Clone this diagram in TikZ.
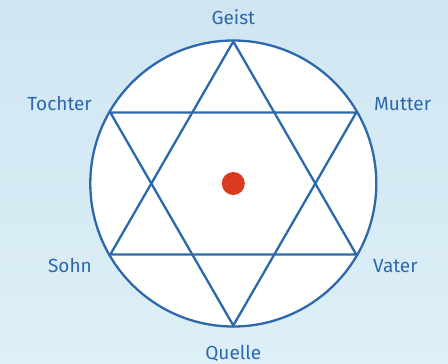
\documentclass[tikz,border=0pt]{standalone}
\usepackage{fontspec}
\setmainfont{Fira Sans}
\usetikzlibrary{calc}
\definecolor{starblue}{HTML}{2D68AD}
\definecolor{dotred}{HTML}{DC3A20}
\definecolor{bgtop}{HTML}{CFE6F2}
\definecolor{bgbot}{HTML}{DDEFF7}
\tikzset{
  lbl/.style={text=starblue, font=\fontsize{19}{22}\selectfont, inner sep=0pt},
  starline/.style={draw=starblue, line width=2.3pt, line join=miter},
}
\begin{document}
\begin{tikzpicture}[x=1pt,y=-1pt]
\shade[top color=bgtop, bottom color=bgbot] (0,0) rectangle (448,364);
\useasboundingbox (0,0) rectangle (448,364);
\coordinate (c) at (233.3,183.5);
\node[circle, draw=starblue, fill=white, line width=2.3pt, minimum size=286pt, inner sep=0pt] (ring) at (c) {};
\coordinate (g) at ($(c)+(-90:142)$);
\coordinate (q) at ($(c)+(90:142)$);
\coordinate (t) at ($(c)+(210:142)$);
\coordinate (m) at ($(c)+(-30:142)$);
\coordinate (s) at ($(c)+(150:142)$);
\coordinate (v) at ($(c)+(30:142)$);
\draw[starline] (g) -- (s) -- (v) -- cycle;
\draw[starline] (q) -- (t) -- (m) -- cycle;
\node[circle, fill=dotred, minimum size=23pt, inner sep=0pt] (dot) at (c) {};
\node[lbl, anchor=base] (geist) at (233.3,24.5) {Geist};
\node[lbl, anchor=base] (quelle) at (233.3,359) {Quelle};
\node[lbl, anchor=base east] (tochter) at (92,110) {Tochter};
\node[lbl, anchor=base west] (mutter) at (374,110) {Mutter};
\node[lbl, anchor=base east] (sohn) at (92,272) {Sohn};
\node[lbl, anchor=base west] (vater) at (373,272) {Vater};
\end{tikzpicture}
\end{document}
